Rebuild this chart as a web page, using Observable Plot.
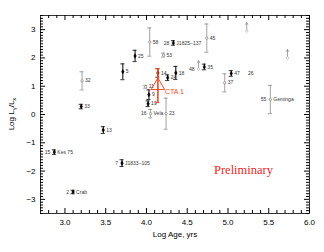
<!DOCTYPE html>
<html><head><meta charset="utf-8">
<script src="https://cdn.jsdelivr.net/npm/d3@7"></script>
<script src="https://cdn.jsdelivr.net/npm/@observablehq/plot@0.6"></script>
<style>body{margin:0;background:#fff;overflow:hidden}</style>
</head><body><div id="chart"></div>
<script>
// Pulsar points
const ids      = ["32","33","13","5","25","58","28","53","45","14","24","18","11","9","19","16","23","35","47","37","55","15","2","7"];
const logAge   = [3.21,3.20,3.47,3.71,3.86,4.04,4.33,4.21,4.74,4.14,4.26,4.36,3.99,4.03,4.02,4.05,4.24,4.71,5.04,4.96,5.52,2.87,3.10,3.70];
const logRatio = [1.19,0.28,-0.55,1.51,2.07,2.56,2.53,2.10,2.70,1.47,1.30,1.47,0.98,0.70,0.38,0.03,0.03,1.68,1.45,1.12,0.53,-1.33,-2.74,-1.72];
const errs     = [0.32,0.08,0.12,0.28,0.20,0.50,0.08,0.07,0.50,0.15,0.10,0.23,0.05,0.17,0.10,0.15,0.55,0.10,0.10,0.32,0.50,0.08,0.06,0.12];
const kinds    = ["g","b","b","b","b","g","b","g","g","b","b","b","g","b","b","g","g","b","b","g","g","b","b","b"];
const leftLab  = ["","","","","","","28","","","","","","","","","16","","","","","55","15","2","7"];
const rightLab = ["32","33","13","5","25","58","J1825−137","53","45","14","24","18","11","9","19","Vela","23","35","47","37","Geminga","Kes 75","Crab","J1833−105"];
// Lower limits (arrows)
const limAge   = [4.64,5.23,5.73];
const limRatio = [1.60,2.95,2.00];
const limLab   = ["48","",""];
// Extra label without point
const extraAge = [5.28], extraRatio = [1.47], extraLab = ["26"];
// CTA 1
const ctaAge = [4.14], ctaRatio = [1.02], ctaErr = [0.60], ctaLab = ["CTA 1"];
// Ticks
const xMajor = [3.0,3.5,4.0,4.5,5.0,5.5,6.0];
const yMajor = [-3,-2,-1,0,1,2,3];

const pts = ids.map((id,i)=>({id,x:logAge[i],y:logRatio[i],e:errs[i],k:kinds[i],l:leftLab[i],r:rightLab[i]}));
const lims = limAge.map((x,i)=>({x,y:limRatio[i],l:limLab[i]}));
const cta = ctaAge.map((x,i)=>({x,y:ctaRatio[i],e:ctaErr[i],l:ctaLab[i]}));
const extra = extraAge.map((x,i)=>({x,y:extraRatio[i],l:extraLab[i]}));

const xMinor = d3.range(28,61).map(d=>d/10).filter(v=>!xMajor.some(m=>Math.abs(m-v)<1e-6));
const yMinor = d3.range(-35,36).map(d=>d/10).filter(v=>!yMajor.some(m=>Math.abs(m-v)<1e-6));

const W=324,H=252,mt=15,mb=39,ml=40,mr=15;
const ih = H-mt-mb, iw = W-ml-mr;
const BLACK="#000", GRAY="#8a8a8a", RED="#f04a23";
const cap = 0.025;

const plot = Plot.plot({
  width: W, height: H,
  marginTop: mt, marginBottom: mb, marginLeft: ml, marginRight: mr,
  style: {fontFamily: "'Liberation Sans', Arial, sans-serif", fontSize: "8px", background: "#fff", overflow: "visible"},
  x: {domain: [2.7, 6.0]},
  y: {domain: [-3.5, 3.5]},
  marks: [
    Plot.frame({stroke: "#000", strokeWidth: 0.8}),
    // bottom & top ticks
    Plot.tickX(xMajor, {x: d=>d, insetTop: ih-5, stroke: "#000"}),
    Plot.tickX(xMinor, {x: d=>d, insetTop: ih-3, stroke: "#000"}),
    Plot.tickX(xMajor, {x: d=>d, insetBottom: ih-5, stroke: "#000"}),
    Plot.tickX(xMinor, {x: d=>d, insetBottom: ih-3, stroke: "#000"}),
    // left & right ticks
    Plot.tickY(yMajor, {y: d=>d, insetRight: iw-5, stroke: "#000"}),
    Plot.tickY(yMinor, {y: d=>d, insetRight: iw-3, stroke: "#000"}),
    Plot.tickY(yMajor, {y: d=>d, insetLeft: iw-5, stroke: "#000"}),
    Plot.tickY(yMinor, {y: d=>d, insetLeft: iw-3, stroke: "#000"}),
    Plot.axisX(xMajor, {tickSize: 0, tickPadding: 6, tickFormat: d3.format(".1f"), label: "Log Age, yrs", labelAnchor: "center", labelOffset: 23, labelArrow: "none", fontSize: 8}),
    Plot.axisY(yMajor, {tickSize: 0, tickPadding: 5, tickFormat: d=>d<0?"−"+Math.abs(d):String(d), label: null, fontSize: 8}),
    // error bars
    Plot.ruleX(pts, {x:"x", y1:d=>d.y-d.e, y2:d=>d.y+d.e, stroke:d=>d.k==="b"?BLACK:GRAY, strokeWidth:d=>d.k==="b"?1:0.8}),
    Plot.ruleY(pts, {y:d=>d.y-d.e, x1:d=>d.x-cap, x2:d=>d.x+cap, stroke:d=>d.k==="b"?BLACK:GRAY, strokeWidth:0.8}),
    Plot.ruleY(pts, {y:d=>d.y+d.e, x1:d=>d.x-cap, x2:d=>d.x+cap, stroke:d=>d.k==="b"?BLACK:GRAY, strokeWidth:0.8}),
    Plot.dot(pts.filter(d=>d.k==="b"), {x:"x", y:"y", symbol:"diamond", r:1.4, fill:BLACK, stroke:BLACK, strokeWidth:0.4}),
    Plot.dot(pts.filter(d=>d.k==="g"), {x:"x", y:"y", r:1.2, fill:"#fff", stroke:GRAY, strokeWidth:0.8}),
    Plot.text(pts, {x:"x", y:"y", text:"r", dx:3, textAnchor:"start", fontSize:5, fill:"#333"}),
    Plot.text(pts, {x:"x", y:"y", text:"l", dx:-4, textAnchor:"end", fontSize:5, fill:"#333"}),
    // lower limits
    Plot.arrow(lims, {x1:"x", x2:"x", y1:"y", y2:d=>d.y+0.3, stroke:GRAY, strokeWidth:0.8, headLength:4}),
    Plot.dot(lims, {x:"x", y:"y", r:1.2, fill:"#fff", stroke:"#bbb", strokeWidth:0.8}),
    Plot.text(lims, {x:"x", y:"y", text:"l", dx:-4, textAnchor:"end", fontSize:5, fill:"#333"}),
    Plot.text(extra, {x:"x", y:"y", text:"l", fontSize:5, fill:"#333"}),
    // CTA 1
    Plot.ruleX(cta, {x:"x", y1:d=>d.y-d.e, y2:d=>d.y+d.e, stroke:RED, strokeWidth:1.6}),
    Plot.ruleY(cta, {y:d=>d.y-d.e, x1:d=>d.x-cap, x2:d=>d.x+cap, stroke:RED, strokeWidth:1}),
    Plot.ruleY(cta, {y:d=>d.y+d.e, x1:d=>d.x-cap, x2:d=>d.x+cap, stroke:RED, strokeWidth:1}),
    Plot.dot(cta, {x:"x", y:"y", symbol:"triangle", r:5, fill:"none", stroke:RED, strokeWidth:1}),
    Plot.text(cta, {x:"x", y:"y", text:"l", dx:7, dy:6, textAnchor:"start", fontSize:7, fill:RED}),
    // Preliminary
    Plot.text(["Preliminary"], {x:5.19, y:-1.96, text:d=>d, fontSize:12.5, fill:"#e8281e", fontFamily:"'Liberation Serif', 'DejaVu Serif', serif"})
  ]
});
document.getElementById("chart").appendChild(plot);
// y-axis label with subscripts
const svg = d3.select(plot);
const t = svg.append("text")
  .attr("transform", `translate(14,${mt+ih/2}) rotate(-90)`)
  .attr("text-anchor","middle")
  .attr("font-family","'Liberation Sans', Arial, sans-serif")
  .attr("font-size", 8).attr("fill","#000");
t.append("tspan").text("Log L");
t.append("tspan").attr("font-size",6).attr("dy",2).text("γ");
t.append("tspan").attr("dy",-2).text("/L");
t.append("tspan").attr("font-size",6).attr("dy",2).text("x");
</script>
</body></html>
